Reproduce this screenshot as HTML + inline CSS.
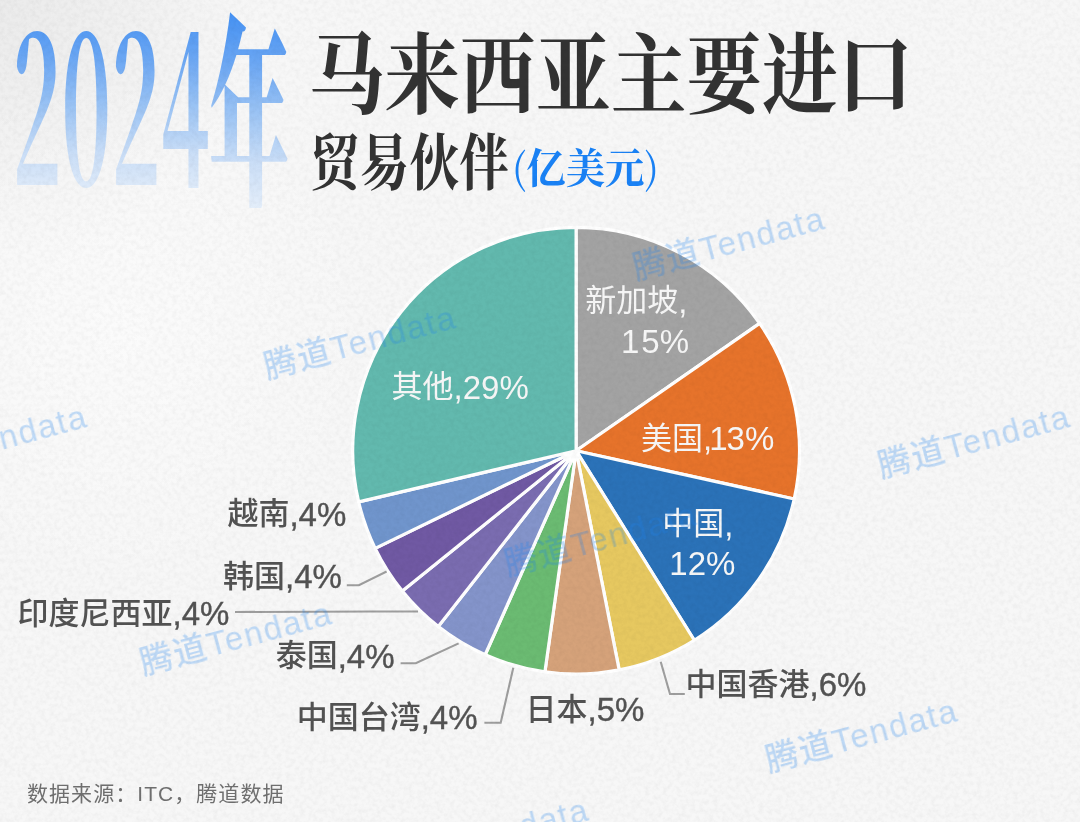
<!DOCTYPE html>
<html lang="zh-CN">
<head>
<meta charset="utf-8">
<title>2024年马来西亚主要进口贸易伙伴</title>
<style>
html,body{margin:0;padding:0;}
body{width:1080px;height:822px;overflow:hidden;position:relative;background:#f3f3f3;}
#bg{position:absolute;left:0;top:0;width:1080px;height:822px;}
.abs{position:absolute;white-space:nowrap;}
.yr{position:absolute;left:0;top:0;font-family:"Liberation Serif","Noto Serif CJK SC",serif;font-weight:700;line-height:1;
  background:linear-gradient(180deg,#3b8cf3 0%,#6aa6f3 30%,#9cc4f4 55%,#cadef7 78%,#e4eefa 100%);-webkit-background-clip:text;background-clip:text;color:transparent;transform-origin:0 0;}
.t1{font-family:"Noto Serif CJK SC",serif;font-weight:700;color:#333;line-height:1;transform-origin:0 0;}
.t2{font-family:"Noto Serif CJK SC",serif;font-weight:700;color:#333;line-height:1;transform-origin:0 0;}
.t3{font-family:"Noto Serif CJK SC",serif;font-weight:700;color:#1a82f5;line-height:1;transform-origin:0 0;}
svg text{font-family:"Liberation Sans","Noto Sans CJK SC",sans-serif;font-weight:500;}
.n{font-size:33px;}
.wl text{font-weight:400;}
.dl .n{stroke:#535353;stroke-width:0.4px;}
.src{left:27px;top:783.4px;font-family:"Liberation Sans","Noto Sans CJK SC",sans-serif;font-size:21px;letter-spacing:1.05px;color:#707070;line-height:1;}
</style>
</head>
<body>
<svg id="bg" width="1080" height="822" viewBox="0 0 1080 822">
  <defs>
    <radialGradient id="g1" cx="0" cy="0" r="260" gradientUnits="userSpaceOnUse"><stop offset="0" stop-color="#000" stop-opacity="0.05"/><stop offset="1" stop-color="#000" stop-opacity="0"/></radialGradient>
    <radialGradient id="g2" cx="120" cy="330" r="260" gradientUnits="userSpaceOnUse"><stop offset="0" stop-color="#fff" stop-opacity="0.5"/><stop offset="1" stop-color="#fff" stop-opacity="0"/></radialGradient>
    <filter id="grain" x="0" y="0" width="1080" height="822" filterUnits="userSpaceOnUse">
      <feTurbulence type="fractalNoise" baseFrequency="0.22" numOctaves="3" seed="7"/>
      <feColorMatrix type="matrix" values="0 0 0 0 0  0 0 0 0 0  0 0 0 0 0  0.07 0 0 0 -0.026"/>
    </filter>
  </defs>
  <rect width="1080" height="822" fill="#f7f7f7"/>
  <rect width="1080" height="822" fill="url(#g1)"/>
  <rect width="1080" height="822" fill="url(#g2)"/>
</svg>

<div id="y2024"><div class="yr" style="font-family:'Noto Serif CJK SC',serif;font-weight:700;font-size:203px;left:12.1px;top:-3.6px;transform:scaleX(0.411);">2024</div></div>
<div class="yr" id="ynian" style="font-family:'Noto Serif CJK SC',serif;font-weight:900;font-size:209px;left:209px;top:-1px;transform:scaleX(0.385);">年</div>

<div class="abs t1" id="t1" style="font-size:88px;left:309.4px;top:24.1px;transform:scaleX(0.858);">马来西亚主要进口</div>
<div class="abs t2" id="t2" style="font-size:61px;left:309.9px;top:127.5px;transform:scaleX(0.816);">贸易伙伴</div>
<div class="abs t3" id="t3" style="font-size:41px;left:512px;top:145px;transform:scaleX(0.96);"><span style="font-weight:400">(</span>亿美元<span style="font-weight:400">)</span></div>

<svg class="abs" style="left:0;top:0" width="1080" height="822" viewBox="0 0 1080 822">
  <g id="pie" stroke="#fff" stroke-width="3.2" stroke-linejoin="bevel">
<path d="M576.1,450.7 L576.10,227.30 A223.40,223.40 0 0 1 759.66,323.36 Z" fill="#a3a3a3"/>
<path d="M576.1,450.7 L759.66,323.36 A223.40,223.40 0 0 1 794.23,498.94 Z" fill="#e6732b"/>
<path d="M576.1,450.7 L794.23,498.94 A223.40,223.40 0 0 1 694.32,640.26 Z" fill="#2b72b8"/>
<path d="M576.1,450.7 L694.32,640.26 A223.40,223.40 0 0 1 619.15,669.91 Z" fill="#e6c860"/>
<path d="M576.1,450.7 L619.15,669.91 A223.40,223.40 0 0 1 544.89,671.91 Z" fill="#d5a27a"/>
<path d="M576.1,450.7 L544.89,671.91 A223.40,223.40 0 0 1 485.16,654.75 Z" fill="#6bbb72"/>
<path d="M576.1,450.7 L485.16,654.75 A223.40,223.40 0 0 1 438.28,626.53 Z" fill="#8494ca"/>
<path d="M576.1,450.7 L438.28,626.53 A223.40,223.40 0 0 1 402.29,591.05 Z" fill="#7a6cb0"/>
<path d="M576.1,450.7 L402.29,591.05 A223.40,223.40 0 0 1 375.17,548.35 Z" fill="#7059a3"/>
<path d="M576.1,450.7 L375.17,548.35 A223.40,223.40 0 0 1 358.65,501.90 Z" fill="#7095cc"/>
<path d="M576.1,450.7 L358.65,501.90 A223.40,223.40 0 0 1 576.10,227.30 Z" fill="#62b9ae"/>
  </g>
  <g fill="none" stroke="#9e9e9e" stroke-width="2.1">
    <polyline points="386.6,571.5 358.9,585.2 346.8,585.2"/>
    <polyline points="418,611.5 373,611.5 235,612"/>
    <polyline points="458.6,643.4 415.8,663.2 400.6,663.2"/>
    <polyline points="513.3,667.8 500.7,722.7 484.4,722.7"/>
    <polyline points="660.7,661.8 670,694 684.8,694"/>
  </g>
  <g font-size="31" fill="#f7f7f7" class="wl">
    <text x="585.2" y="311.3" id="L0">新加坡<tspan class="n" dy="1.5">,</tspan></text>
    <text x="621" y="352.5" id="L1" class="n">1<tspan dx="2">5%</tspan></text>
    <text x="391.6" y="397.1" id="L2">其他<tspan class="n" dy="1.5">,29%</tspan></text>
    <text x="641" y="448.9" id="L3">美国<tspan class="n" dy="1.5">,</tspan><tspan class="n" dx="-3">1</tspan><tspan class="n" dx="-1">3%</tspan></text>
    <text x="662.3" y="534.1" id="L4">中国<tspan class="n" dy="1.5">,</tspan></text>
    <text x="669.3" y="574.5" id="L5" class="n">12%</text>
  </g>
  <g font-size="31" fill="#535353" class="dl">
    <text x="227.4" y="524" id="L6">越南<tspan class="n" dy="1.5">,4%</tspan></text>
    <text x="223" y="586.6" id="L7">韩国<tspan class="n" dy="1.5">,4%</tspan></text>
    <text x="17.6" y="623.5" id="L8">印度尼西亚<tspan class="n" dy="1.5">,4%</tspan></text>
    <text x="275.7" y="666.4" id="L9">泰国<tspan class="n" dy="1.5">,4%</tspan></text>
    <text x="296.7" y="727.5" id="L10">中国台湾<tspan class="n" dy="1.5">,4%</tspan></text>
    <text x="525.6" y="719.9" id="L11">日本<tspan class="n" dy="1.5">,5%</tspan></text>
    <text x="685.5" y="694.9" id="L12">中国香港<tspan class="n" dy="1.5">,6%</tspan></text>
  </g>
</svg>

<svg class="abs" id="wm" style="left:0;top:0" width="1080" height="822" viewBox="0 0 1080 822">
  <g opacity="0.27" fill="#1f85f0" font-size="33" font-family="Liberation Sans, Noto Sans CJK SC, sans-serif" letter-spacing="1.6">
    <text id="W0" transform="translate(636.3,279.6) rotate(-15)">腾道Tendata</text>
    <text id="W1" transform="translate(267.3,378.6) rotate(-15)">腾道Tendata</text>
    <text id="W2" transform="translate(-101.6,477.6) rotate(-15)">腾道Tendata</text>
    <text id="W3" transform="translate(881.4,477.6) rotate(-15)">腾道Tendata</text>
    <text id="W4" transform="translate(508.0,575.6) rotate(-15)">腾道Tendata</text>
    <text id="W5" transform="translate(143.4,674.6) rotate(-15)">腾道Tendata</text>
    <text id="W6" transform="translate(768.9,771.8) rotate(-15)">腾道Tendata</text>
    <text id="W7" transform="translate(400.0,871.0) rotate(-15)">腾道Tendata</text>
  </g>
</svg>
<div class="abs src" id="src">数据来源：ITC，腾道数据</div>
<svg class="abs" style="left:0;top:0;pointer-events:none" width="1080" height="822" viewBox="0 0 1080 822"><rect width="1080" height="822" filter="url(#grain)"/></svg>
</body>
</html>
